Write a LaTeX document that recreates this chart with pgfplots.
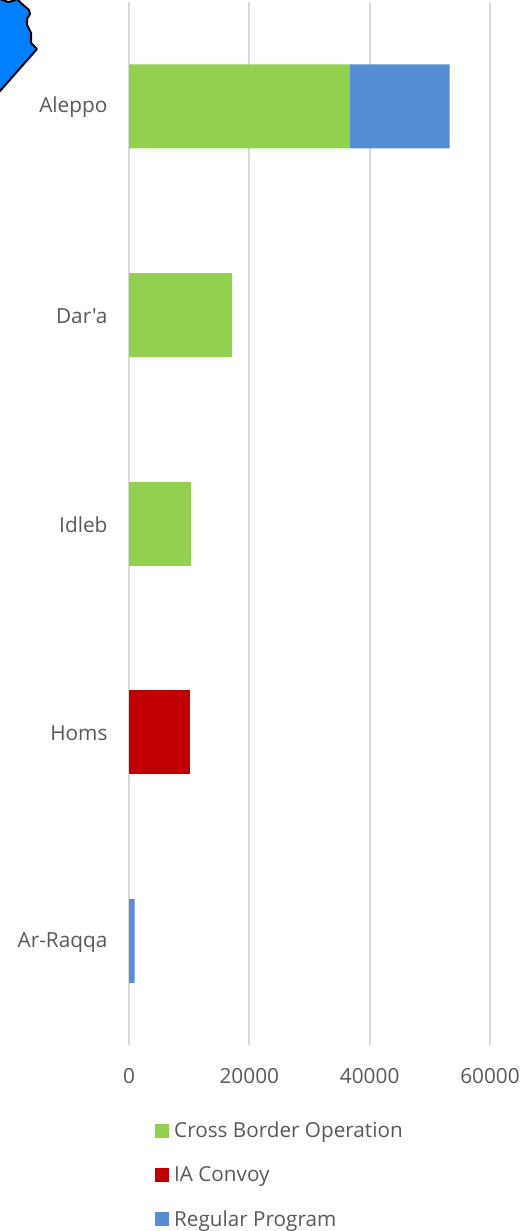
\documentclass[border=0pt]{standalone}
\usepackage{fontspec}
\setmainfont{Open Sans}[Ligatures=TeXOff]
\usepackage{pgfplots}
\pgfplotsset{compat=1.18}
\definecolor{cbgreen}{HTML}{92D050}
\definecolor{iared}{HTML}{C00000}
\definecolor{rpblue}{HTML}{558ED5}
\definecolor{gridc}{HTML}{D9D9D9}
\definecolor{txt}{HTML}{595959}
\definecolor{mapblue}{HTML}{0080FF}
\begin{document}
\begin{tikzpicture}[x=1pt,y=1pt]
\path[use as bounding box] (0,0) rectangle (525,1231);
\begin{axis}[
  at={(129pt,185.5pt)}, anchor=south west,
  scale only axis, width=361pt, height=1043.5pt,
  xbar stacked, bar width=84pt,
  xmin=0, xmax=60000, ymin=-0.5, ymax=4.5,
  xtick={0,20000,40000,60000},
  ytick={0,1,2,3,4},
  yticklabels={Ar-Raqqa,Homs,Idleb,Dar'a,Aleppo},
  /pgf/number format/assume math mode=true,
  /pgf/number format/.cd, 1000 sep={}, /pgfplots/.cd,
  scaled x ticks=false,
  major tick length=0pt,
  axis line style={draw=none},
  xmajorgrids, grid style={gridc, line width=2pt},
  xticklabel style={font=\fontsize{20.8}{24}\selectfont, text=txt, yshift=-19pt},
  yticklabel style={font=\fontsize{20.8}{24}\selectfont, text=txt, xshift=-18pt, yshift=-1.2pt},
  legend style={draw=none, fill=none, at={(axis description cs:0.072,-0.0712)}, anchor=north west,
    font=\fontsize{20.7}{24}\selectfont, text=txt, row sep=23.5pt, inner sep=0pt,
    cells={anchor=west}, /tikz/column 1/.style={column sep=3pt}},
  legend cell align=left,
  legend image code/.code={\fill[#1] (0pt,-7pt) rectangle (14pt,7pt);},
]
\addplot[fill=cbgreen, draw=none] coordinates {(0,0) (0,1) (10300,2) (17120,3) (36700,4)};
\addplot[fill=iared, draw=none] coordinates {(0,0) (10140,1) (0,2) (0,3) (0,4)};
\addplot[fill=rpblue, draw=none] coordinates {(950,0) (0,1) (0,2) (0,3) (16570,4)};
\legend{Cross Border Operation, IA Convoy, Regular Program}
\draw[gridc, line width=2pt] (axis cs:0,-0.5) -- (axis cs:0,4.5);
\end{axis}
\begin{scope}
\clip (0,0) rectangle (525,1231);
\filldraw[fill=mapblue, draw=black, line width=2pt, line join=round]
 (-3,1233) -- (3,1231) -- (8,1229) -- (13,1230) -- (17,1232) -- (18,1231) -- (22,1227) -- (29,1221) -- (30,1217) -- (27,1212) -- (27,1206) -- (31,1198) -- (31,1188) -- (37,1182) -- (0,1140) -- (-3,1137) -- cycle;
\end{scope}
\end{tikzpicture}
\end{document}
